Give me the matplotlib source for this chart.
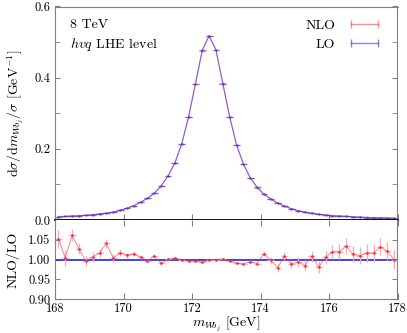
import numpy as np
import matplotlib
matplotlib.use("Agg")
import matplotlib.pyplot as plt
from matplotlib.lines import Line2D

# ---- data ----
bin_centers = [168.1 + 0.2 * i for i in range(50)]
lo_values = [0.009, 0.010, 0.011, 0.012, 0.013, 0.015, 0.017, 0.019, 0.022, 0.027,
             0.033, 0.040, 0.050, 0.061, 0.075, 0.096, 0.124, 0.160, 0.214, 0.290,
             0.383, 0.478, 0.518, 0.478, 0.383, 0.290, 0.212, 0.158, 0.119, 0.092,
             0.072, 0.059, 0.048, 0.039, 0.032, 0.026, 0.022, 0.019, 0.016, 0.014,
             0.012, 0.011, 0.010, 0.009, 0.008, 0.007, 0.0065, 0.006, 0.0055, 0.005]
ratio_values = [1.053, 1.004, 1.062, 1.027, 0.996, 1.007, 1.017, 1.041, 1.004, 1.017,
                1.011, 1.015, 1.006, 0.997, 1.009, 0.991, 1.001, 1.004, 0.998, 0.997,
                0.997, 0.993, 0.998, 1.000, 1.002, 0.997, 0.991, 0.989, 0.995, 0.990,
                1.015, 0.998, 0.980, 1.009, 0.989, 0.994, 0.985, 1.009, 0.981, 1.006,
                1.020, 1.020, 1.034, 1.014, 1.010, 1.017, 1.017, 1.032, 1.021, 1.000]
ratio_errors = [0.023, 0.020, 0.016, 0.014, 0.013, 0.012, 0.011, 0.011, 0.010, 0.009,
                0.007, 0.006, 0.005, 0.005, 0.004, 0.004, 0.003, 0.003, 0.002, 0.002,
                0.002, 0.002, 0.002, 0.002, 0.002, 0.002, 0.002, 0.003, 0.003, 0.004,
                0.007, 0.008, 0.010, 0.010, 0.011, 0.012, 0.013, 0.014, 0.015, 0.016,
                0.018, 0.019, 0.020, 0.021, 0.022, 0.022, 0.022, 0.023, 0.023, 0.024]
half_bin = 0.1
x_ticks = [168, 170, 172, 174, 176, 178]
main_yticks = [0.0, 0.2, 0.4, 0.6]
ratio_yticks = [0.90, 0.95, 1.00, 1.05]

x = np.array(bin_centers)
lo = np.array(lo_values)
ratio = np.array(ratio_values)
rerr = np.array(ratio_errors)
nlo = lo * ratio

plt.rcParams['font.family'] = ['cmr10', 'DejaVu Serif']
plt.rcParams['mathtext.fontset'] = 'cm'
plt.rcParams['axes.formatter.use_mathtext'] = True
plt.rcParams['axes.unicode_minus'] = False

fig = plt.figure(figsize=(4.07, 3.33), dpi=100)
L, R = 55 / 407, 397.5 / 407
top_main = 1 - 6.5 / 333
bot_main = 1 - 220 / 333
bot_ratio = 1 - 299.3 / 333
ax = fig.add_axes([L, bot_main, R - L, top_main - bot_main])
ax2 = fig.add_axes([L, bot_ratio, R - L, bot_main - bot_ratio], sharex=ax)

gray = '#808080'
red = '#ff3030'
blue = '#3030ff'

# main panel
ax.errorbar(x, nlo, xerr=half_bin, color=red, alpha=0.45, lw=0.8, elinewidth=0.9,
            marker='.', ms=1.2)
ax.errorbar(x, lo, xerr=half_bin, color=blue, alpha=0.6, lw=0.8, elinewidth=0.9,
            marker='.', ms=1.2)
ax.set_xlim(168, 178)
ax.set_ylim(0.0, 0.6)
ax.set_yticks(main_yticks)
ax.set_yticklabels(['0.0', '0.2', '0.4', '0.6'])
ax.set_yticks([0.1, 0.3, 0.5], minor=True)
ax.set_xticks(x_ticks)
ax.tick_params(axis='x', labelbottom=False, direction='in', length=4, top=False, color=gray)
ax.tick_params(axis='y', which='both', direction='in', length=3.5, left=True, right=True,
               color=gray, labelsize=9)
for s in ['left', 'right', 'top']:
    ax.spines[s].set_color(gray)
ax.spines['bottom'].set_color('black')
ax.spines['bottom'].set_linewidth(1.3)
ax.set_ylabel(r'$\mathrm{d}\sigma/\mathrm{d}m_{W\!b_{j}}/\sigma$ [GeV$^{-1}$]', fontsize=10,
              labelpad=6)

ax.text(0.045, 0.915, '8 TeV', transform=ax.transAxes, fontsize=10, va='center')
ax.text(0.045, 0.82, r'$hvq$ LHE level', transform=ax.transAxes, fontsize=10, va='center')

h_nlo = Line2D([], [], color=red, alpha=0.55, lw=1.0, marker='|', ms=6)
h_lo = Line2D([], [], color=blue, alpha=0.6, lw=1.0, marker='|', ms=6)
ax.legend([h_nlo, h_lo], ['NLO', 'LO'], loc='upper right', frameon=False, numpoints=2,
          markerfirst=False, fontsize=10, handlelength=2.6, borderaxespad=0.3,
          labelspacing=0.45, bbox_to_anchor=(0.985, 0.985))

# ratio panel
ax2.axhline(1.0, color='#2020ff', lw=1.2)
ax2.errorbar(x, ratio, xerr=half_bin, yerr=rerr, fmt='none', ecolor='#ffa8b0', elinewidth=0.9)
ax2.plot(x, ratio, color=red, alpha=0.6, lw=0.7, marker='.', ms=2.2, mfc='#e02020', mec='#e02020')
ax2.set_ylim(0.9, 1.1)
ax2.set_yticks(ratio_yticks)
ax2.set_yticklabels(['0.90', '0.95', '1.00', '1.05'])
ax2.set_xticks(x_ticks)
ax2.set_xticklabels([str(t) for t in x_ticks])
ax2.tick_params(axis='x', direction='in', length=4, top=True, bottom=True, color=gray,
                labelsize=9, pad=2.5)
ax2.tick_params(axis='y', direction='in', length=3.5, left=True, right=True, color=gray,
                labelsize=9)
for s in ['left', 'right', 'bottom']:
    ax2.spines[s].set_color(gray)
ax2.spines['top'].set_visible(False)
ax2.set_ylabel('NLO/LO', fontsize=10, labelpad=6)
ax2.set_xlabel(r'$m_{W\!b_{j}}$ [GeV]', fontsize=10, labelpad=0)

fig.align_ylabels([ax, ax2])
fig.savefig('out.png', dpi=100)
